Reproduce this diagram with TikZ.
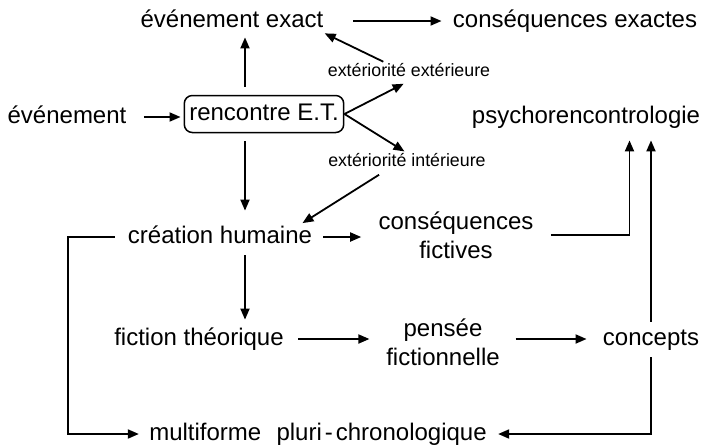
\documentclass[tikz,border=0pt]{standalone}
\usepackage{fontspec}
\setmainfont{Liberation Sans}
\usetikzlibrary{arrows.meta, positioning}

\begin{document}
\begin{tikzpicture}[
    x=0.5pt, y=-0.5pt,
    term/.style={font=\fontsize{12}{14.5}\selectfont, inner sep=0pt, text height=9pt, text depth=2.5pt},
    twoline/.style={font=\fontsize{12}{14.5}\selectfont, inner sep=0pt, align=center},
    small/.style={font=\fontsize{8.9}{10}\selectfont, inner sep=0pt, text height=6.7pt, text depth=1.9pt},
    etbox/.style={term, draw, rounded corners=4pt, line width=0.75pt, inner xsep=2.5pt, inner ysep=3.5pt},
    arr/.style={-{Triangle[length=5.5pt,width=4.5pt]}, line width=0.9pt}
]
    \useasboundingbox (0,0) rectangle (703,446);

    % Terms of the diagram
    \node[term] (exact) at (232,21) {événement exact};
    \node[term] (conexact) at (575,21) {conséquences exactes};
    \node[small] (extext) at (409,72) {extériorité extérieure};
    \node[term] (evt) at (67,117) {événement};
    \node[etbox] (rencontre) at (264,114) {rencontre E.T.};
    \node[term] (psycho) at (586,117) {psychorencontrologie};
    \node[small] (extint) at (407,162) {extériorité intérieure};
    \node[term] (creation) at (220,237) {création humaine};
    \node[twoline] (consfict) at (456,235) {conséquences\\fictives};
    \node[term] (fiction) at (199,339) {fiction théorique};
    \node[twoline] (pensee) at (443,342) {pensée\\fictionnelle};
    \node[term] (concepts) at (651,339) {concepts};
    \node[term] (multi) at (318,434) {multiforme\ \ \kern1pt pluri\kern1.5pt-\kern1.5pt chronologique};

    % Rails
    \coordinate (spine) at (245,0);
    \coordinate (leftrail) at (68,0);

    % Around the meeting
    \draw[arr, shorten <=8.5pt, shorten >=1.5pt] (evt.east) -- (evt.east -| rencontre.west);
    \draw[arr, shorten <=4pt, shorten >=2.25pt] (rencontre.north -| spine) -- (exact.south -| spine);
    \draw[arr, shorten <=4pt, shorten >=7.25pt] (rencontre.south -| spine) -- (creation.north -| spine);
    \draw[arr, shorten <=14.75pt, shorten >=5.5pt] (exact.east) -- (conexact.west);
    \draw[arr, shorten >=3pt] (rencontre.east) -- (extext.south);
    \draw[arr, shorten >=1.5pt] (rencontre.east) -- (extint.north);
    \draw[arr, shorten <=1.5pt, shorten >=0.5pt] ([xshift=-11.5pt]extext.north) -- (exact.south east);
    \draw[arr, shorten <=3.5pt] ([xshift=-11pt]extint.south) -- ([xshift=-5pt,yshift=1pt]creation.north east);

    % Human creation and fiction
    \draw[arr, shorten <=5.5pt, shorten >=8.5pt] (creation.east) -- (creation.east -| consfict.west);
    \draw[arr, shorten <=3.25pt, shorten >=3.75pt] (creation.south -| spine) -- (fiction.north -| spine);
    \draw[arr, shorten <=7pt, shorten >=8.25pt] (fiction.east) -- (fiction.east -| pensee.west);
    \draw[arr, shorten <=7.75pt, shorten >=8pt] (pensee.east |- concepts.west) -- (concepts.west);

    % Towards psychorencontrologie
    \draw[arr, shorten <=8.5pt, shorten >=5.75pt] (consfict.east) -| ([xshift=21.75pt]psycho.south);
    \draw[arr, shorten <=2.75pt, shorten >=5.75pt] (concepts.north) -- (concepts.north |- psycho.south);

    % Towards multiforme
    \draw[arr, shorten <=3.25pt, shorten >=5.5pt] (concepts.south) |- (multi.east);
    \draw[arr, shorten <=6.5pt, shorten >=5pt] (creation.west) -- (creation.west -| leftrail) |- (multi.west);
\end{tikzpicture}
\end{document}
